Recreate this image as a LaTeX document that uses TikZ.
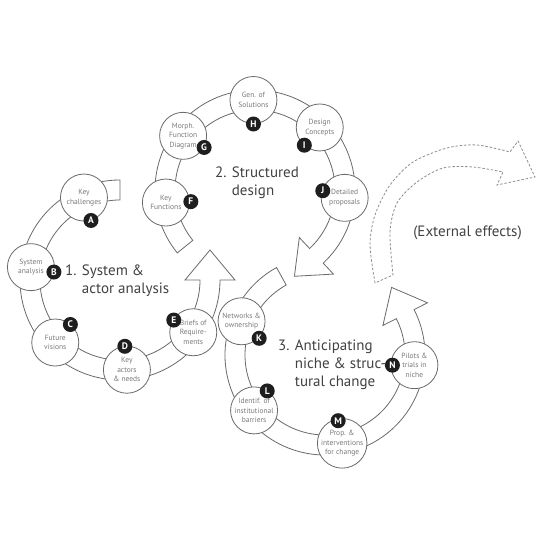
\documentclass[tikz,border=0pt]{standalone}
\usepackage{fontspec}
\setmainfont{PT Sans}
\usetikzlibrary{calc}
\definecolor{ringgray}{HTML}{6A6A6A}
\definecolor{txtgray}{HTML}{7A7A7A}
\definecolor{bigtxt}{HTML}{424242}
\definecolor{dashgray}{HTML}{8E8E8E}
\definecolor{badgeblack}{HTML}{1E1E1E}
\begin{document}
\begin{tikzpicture}[x=1pt,y=1pt,
  ring/.style={draw=ringgray, line width=0.8pt, fill=white, line join=miter},
  dashring/.style={draw=dashgray, line width=0.8pt, dash pattern=on 2.5pt off 1.8pt},
  stage/.style={circle, draw=ringgray, line width=0.8pt, fill=white, minimum size=47pt,
    inner sep=0pt, align=center, text=txtgray, font=\fontsize{7.5}{9.5}\selectfont},
  badge/.style={circle, fill=badgeblack, minimum size=15pt, inner sep=0pt, text=white,
    font=\fontsize{9.5}{9.5}\selectfont\bfseries},
  phase/.style={align=left, text=bigtxt, font=\fontsize{15}{18}\selectfont, inner sep=0pt, anchor=west},
]
\useasboundingbox (0,0) rectangle (540,540);
\fill[white] (0,0) rectangle (540,540);
\coordinate (c1) at (120,260);
\coordinate (c2) at (255,350);
\coordinate (c3) at (325,185);

% cycle 1 (counter-clockwise)
\draw[ring] ($(c1)+(90:100)$) arc[start angle=90,end angle=360,radius=100]
  -- ($(c1)+(0:115)$) -- ($(c1)+(0:90)+(90:30)$) -- ($(c1)+(0:65)$) -- ($(c1)+(0:80)$)
  arc[start angle=360,end angle=90,radius=80] -- cycle;
% cycle 2 (clockwise)
\draw[ring] ($(c2)+(219:100)$) arc[start angle=219,end angle=-47,radius=100]
  -- ($(c2)+(-47:115)$) -- ($(c2)+(-47:90)+(-137:30)$) -- ($(c2)+(-47:65)$) -- ($(c2)+(-47:80)$)
  arc[start angle=-47,end angle=219,radius=80] -- cycle;
% cycle 3 (counter-clockwise)
\draw[ring] ($(c3)+(119:100)$) arc[start angle=119,end angle=387,radius=100]
  -- ($(c3)+(27:115)$) -- ($(c3)+(27:90)+(117:30)$) -- ($(c3)+(27:65)$) -- ($(c3)+(27:80)$)
  arc[start angle=387,end angle=119,radius=80] -- cycle;

% external effects dashed arrow
\draw[dashring] plot[smooth] coordinates {(375,257) (370,295) (375,325) (390,355) (413,378) (447,392) (477,395) (510,388)}
  -- (518,399) -- (535,363) -- (497,355)
  -- plot[smooth] coordinates {(503,368) (473,373) (443,372) (417,358) (397,337) (390,308) (393,265)} -- cycle;

% stages cycle 1
\node[stage] (A) at ($(c1)+(113.6:90)$) {Key\\challenges};
\node[stage] (B) at ($(c1)+(171.8:90)$) {System\\analysis};
\node[stage] (C) at ($(c1)+(224:90)$) {Future\\visions};
\node[stage] (D) at ($(c1)+(274.4:90)$) {Key\\actors\\\& needs};
\node[stage] (E) at ($(c1)+(324.5:90)$) {Briefs of\\Require-\\ments};
% stages cycle 2
\node[stage] (F) at ($(c2)+(188:90)$) {Key\\Functions};
\node[stage] (G) at ($(c2)+(143:90)$) {Morph.\\Function\\Diagram};
\node[stage] (H) at ($(c2)+(91:90)$) {Gen. of\\Solutions};
\node[stage] (I) at ($(c2)+(44:90)$) {Design\\Concepts};
\node[stage] (J) at ($(c2)+(-5:90)$) {Detailed\\proposals};
% stages cycle 3
\node[stage] (K) at ($(c3)+(158:90)$) {Networks \&\\ownership};
\node[stage] (L) at ($(c3)+(218:90)$) {Identif. of\\institutional\\barriers};
\node[stage] (M) at ($(c3)+(281:90)$) {Prop. \&\\interventions\\for change};
\node[stage] (N) at ($(c3)+(353.5:90)$) {Pilots \&\\trials in\\niche};

% badges
\node[badge] (bA) at ($(A)+(-73:24)$) {A};
\node[badge] (bB) at ($(B)+(-12:23.5)$) {B};
\node[badge] (bC) at ($(C)+(50:23.5)$) {C};
\node[badge] (bD) at ($(D)+(95:23.5)$) {D};
\node[badge] (bE) at ($(E)+(148:23)$) {E};
\node[badge] (bF) at ($(F)+(2:25)$) {F};
\node[badge] (bG) at ($(G)+(-29:24)$) {G};
\node[badge] (bH) at ($(H)+(-90:24)$) {H};
\node[badge] (bI) at ($(I)+(-131:23.5)$) {I};
\node[badge] (bJ) at ($(J)+(162:23)$) {J};
\node[badge] (bK) at ($(K)+(-44:24.5)$) {K};
\node[badge] (bL) at ($(L)+(56:23.5)$) {L};
\node[badge] (bM) at ($(M)+(100:23)$) {M};
\node[badge] (bN) at ($(N)+(180:22)$) {N};

% phase titles
\node[phase] (p1) at (65,259) {1. System \&\\\hphantom{1. }actor analysis};
\node[phase] (p2) at (215,357.5) {2. Structured\\\hphantom{2. }design};
\node[phase] (p3) at (278,175) {3. Anticipating\\\hphantom{3. }niche \& struc-\\\hphantom{3. }tural change};
\node[text=bigtxt, font=\fontsize{15}{18}\selectfont, inner sep=0pt] (ext) at (467.5,307) {(External effects)};
\end{tikzpicture}
\end{document}
